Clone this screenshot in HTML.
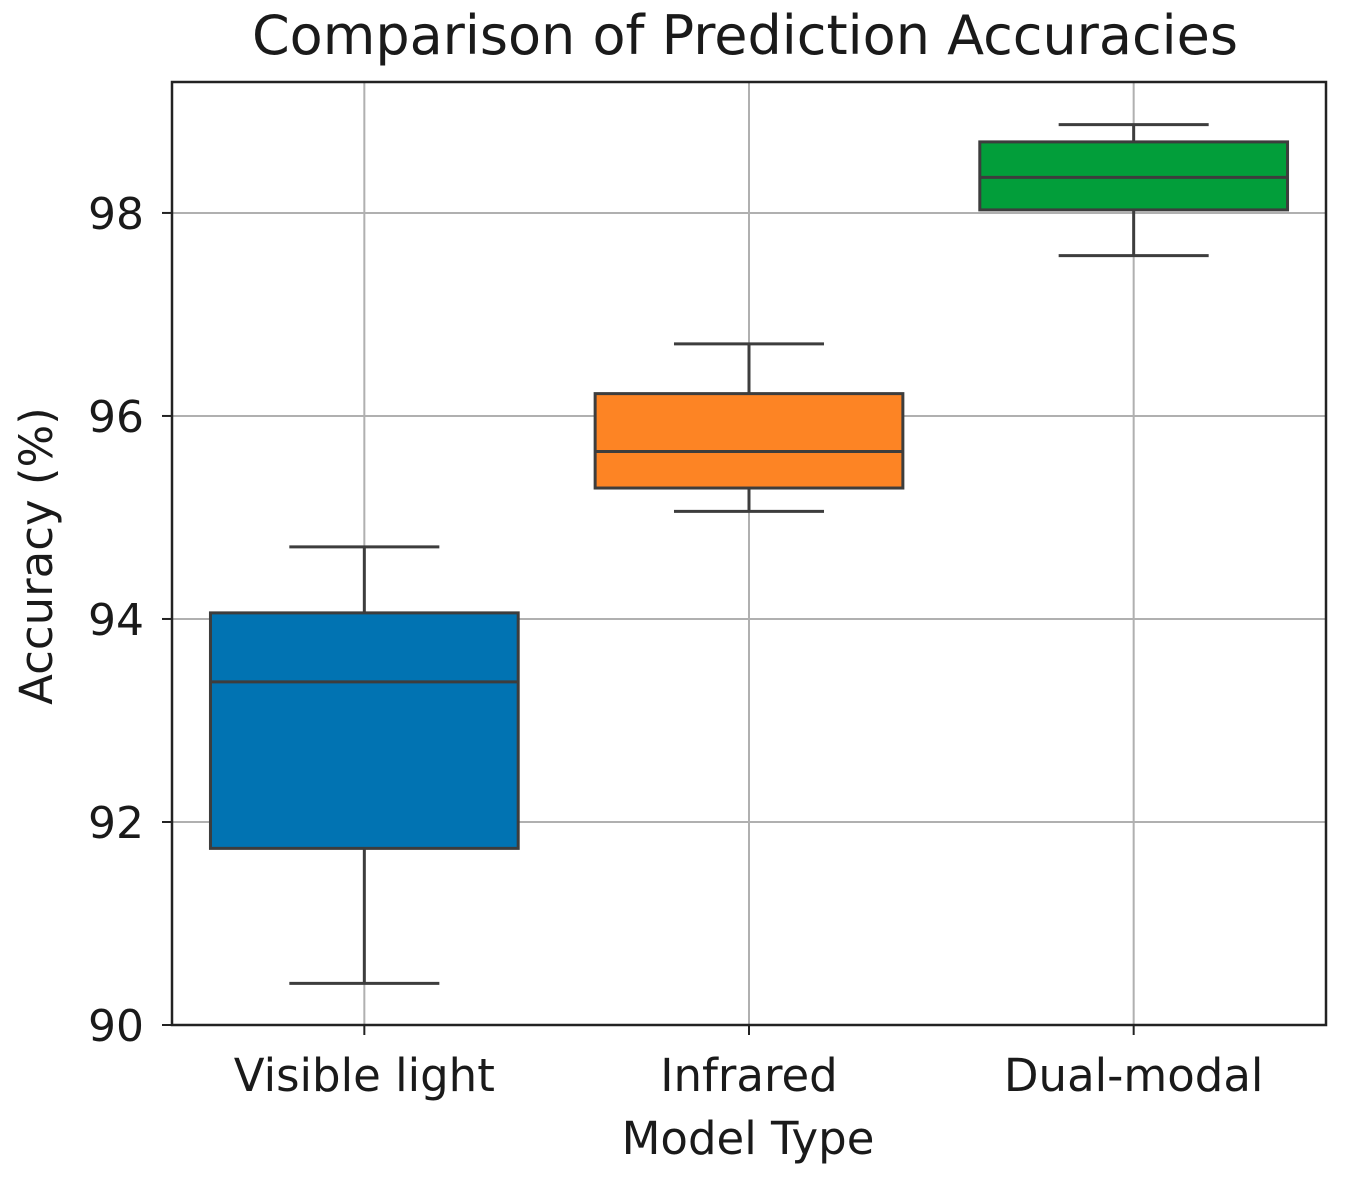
<!DOCTYPE html>
<html><head><meta charset="utf-8"><style>
html,body{margin:0;padding:0;background:#fff;}
svg text{font-family:"DejaVu Sans","Liberation Sans",sans-serif;fill:#1a1a1a;}
</style></head><body>
<svg id="chart" width="1345" height="1177" viewBox="0 0 1345 1177" xmlns="http://www.w3.org/2000/svg">
<text x="745" y="54" font-size="54" text-anchor="middle">Comparison of Prediction Accuracies</text>
<g id="grid"></g>
<g id="boxes"></g>
<rect x="172" y="82" width="1154" height="943" fill="none" stroke="#222" stroke-width="2.5"/>
<g id="axes"></g>
<text x="748" y="1154" font-size="45" text-anchor="middle">Model Type</text>
<text transform="translate(52,556) rotate(-90)" font-size="45" text-anchor="middle">Accuracy (%)</text>
</svg>
<script>
const categories = ["Visible light", "Infrared", "Dual-modal"];
const whiskerLow = [90.41, 95.06, 97.58];
const q1 = [91.74, 95.29, 98.03];
const median = [93.38, 95.65, 98.35];
const q3 = [94.06, 96.22, 98.70];
const whiskerHigh = [94.71, 96.71, 98.87];
const colors = ["#0173b2", "#fd8424", "#029e3a"];
const yTicks = [90, 92, 94, 96, 98];

const L=172,R=1326,T=82,B=1025, yMin=90, yMax=99.29;
const NS="http://www.w3.org/2000/svg";
function y(v){return B-(v-yMin)/(yMax-yMin)*(B-T);}
function x(i){return L+(i+0.5)*(R-L)/categories.length;}
const unit=(R-L)/categories.length;
function mk(tag,attrs,parent){const e=document.createElementNS(NS,tag);for(const k in attrs)e.setAttribute(k,attrs[k]);parent.appendChild(e);return e;}
const grid=document.getElementById('grid'),boxes=document.getElementById('boxes'),axes=document.getElementById('axes');
yTicks.forEach(t=>{
  const g=mk('line',{x1:L,x2:R,y1:y(t),y2:y(t),stroke:'#b0b0b0','stroke-width':2},grid);
  
  
  const tk=mk('line',{x1:L-10,x2:L,y1:y(t),y2:y(t),stroke:'#222','stroke-width':2},axes);
  
  
  const lb=mk('text',{x:L-28,y:y(t)+16,'font-size':44,'text-anchor':'end'},axes);
  lb.textContent=t;
  
  
});
categories.forEach((c,i)=>{
  const cx=x(i);
  const g=mk('line',{x1:cx,x2:cx,y1:T,y2:B,stroke:'#b0b0b0','stroke-width':2},grid);
  
  
  const tk=mk('line',{x1:cx,x2:cx,y1:B,y2:B+10,stroke:'#222','stroke-width':2},axes);
  
  
  const lb=mk('text',{x:cx,y:B+66,'font-size':45,'text-anchor':'middle'},axes);
  lb.textContent=c;
  
  
  const bw=unit*0.8, cw=unit*0.39, st='#3d3d3d', sw=3;
  const grp=mk('g',{},boxes);
  
  
  mk('line',{x1:cx,x2:cx,y1:y(whiskerLow[i]),y2:y(q1[i]),stroke:st,'stroke-width':sw},grp);
  mk('line',{x1:cx,x2:cx,y1:y(q3[i]),y2:y(whiskerHigh[i]),stroke:st,'stroke-width':sw},grp);
  mk('line',{x1:cx-cw/2,x2:cx+cw/2,y1:y(whiskerLow[i]),y2:y(whiskerLow[i]),stroke:st,'stroke-width':sw},grp);
  mk('line',{x1:cx-cw/2,x2:cx+cw/2,y1:y(whiskerHigh[i]),y2:y(whiskerHigh[i]),stroke:st,'stroke-width':sw},grp);
  mk('rect',{x:cx-bw/2,y:y(q3[i]),width:bw,height:y(q1[i])-y(q3[i]),fill:colors[i],stroke:st,'stroke-width':sw},grp);
  mk('line',{x1:cx-bw/2,x2:cx+bw/2,y1:y(median[i]),y2:y(median[i]),stroke:st,'stroke-width':sw},grp);
});
</script>
</body></html>
